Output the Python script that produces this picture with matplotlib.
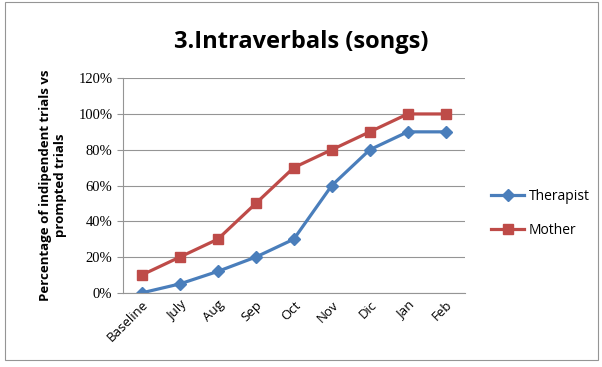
import matplotlib
matplotlib.use('Agg')
import matplotlib.pyplot as plt
from matplotlib.patches import Rectangle

months = ['Baseline', 'July', 'Aug', 'Sep', 'Oct', 'Nov', 'Dic', 'Jan', 'Feb']
therapist = [0, 5, 12, 20, 30, 60, 80, 90, 90]
mother = [10, 20, 30, 50, 70, 80, 90, 100, 100]
yticks = [0, 20, 40, 60, 80, 100, 120]

fig = plt.figure(figsize=(6.02, 3.67), dpi=100)
ax = fig.add_axes([0.204, 0.202, 0.568, 0.585])

x = range(len(months))
ax.plot(x, therapist, color='#4a7ebb', lw=2.3, marker='D', ms=6, label='Therapist')
ax.plot(x, mother, color='#be4b48', lw=2.3, marker='s', ms=7.5, label='Mother')

ax.set_xlim(-0.5, len(months) - 0.5)
ax.set_ylim(0, 120)
ax.set_yticks(yticks)
ax.set_yticklabels([f'{v}%' for v in yticks], family='Liberation Serif', fontsize=10.5)
ax.set_xticks(list(x))
ax.set_xticklabels(months, rotation=45, ha='right', rotation_mode='anchor',
                   family='Open Sans', fontsize=9.5)
ax.yaxis.grid(True, color='#959595', lw=0.8)
ax.set_axisbelow(True)
for s in ['top', 'right']:
    ax.spines[s].set_visible(False)
for s in ['left', 'bottom']:
    ax.spines[s].set_color('#959595')
ax.tick_params(axis='both', colors='#959595', length=4, labelcolor='black')
ax.tick_params(axis='x', length=0, pad=4)

ax.set_ylabel('Percentage of indipendent trials vs\nprompted trials', family='Open Sans',
              fontweight='bold', fontsize=9.5, labelpad=8)
fig.text(0.5, 0.885, '3.Intraverbals (songs)', ha='center', va='center',
         family='Open Sans', fontweight='bold', fontsize=17)

ax.legend(loc='center left', bbox_to_anchor=(1.04, 0.37), frameon=False,
          prop={'family': 'Open Sans', 'size': 10}, handlelength=2.4,
          handletextpad=0.3, labelspacing=1.4)

fig.patches.append(Rectangle((0.008, 0.02), 0.985, 0.975, transform=fig.transFigure,
                             fill=False, edgecolor='#959595', lw=0.8))
fig.savefig('out.png', dpi=100)
